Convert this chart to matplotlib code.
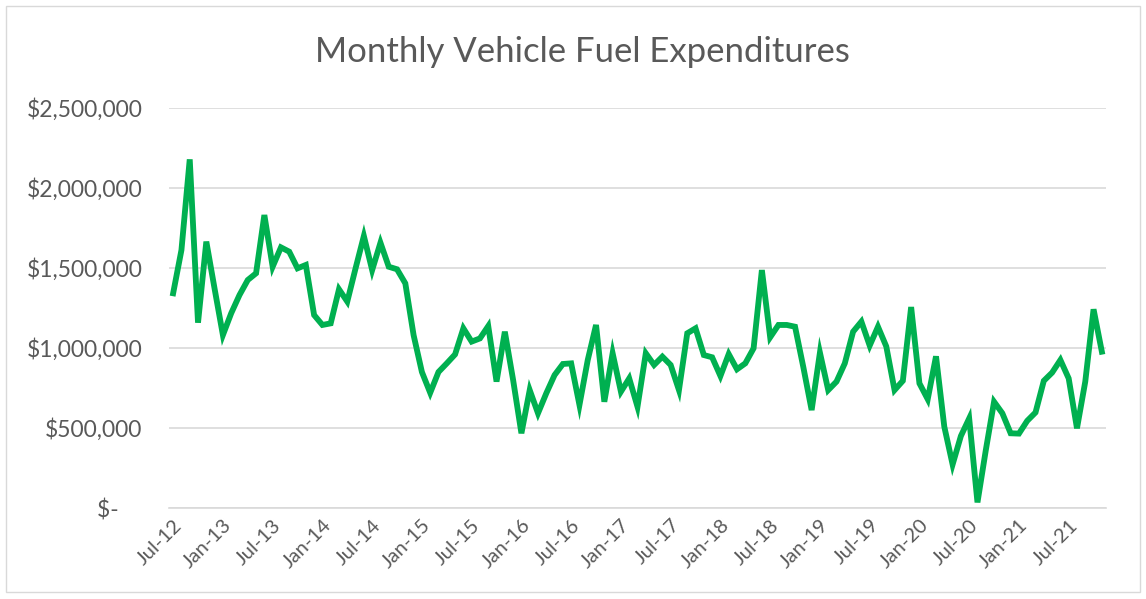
import matplotlib
matplotlib.use("Agg")
import matplotlib.pyplot as plt
from matplotlib.patches import Rectangle

# Monthly values Jul-12 .. Nov-21 (dollars)
values = [
    1342000, 1612000, 2179000, 1158000, 1665000, 1370000, 1081000, 1217000, 1331000, 1425000, 1467000, 1831000,
    1508000, 1629000, 1602000, 1498000, 1519000, 1206000, 1144000, 1154000, 1367000, 1290000, 1498000, 1700000,
    1487000, 1658000, 1508000, 1492000, 1404000, 1080000, 850000, 720000, 850000, 904000, 960000, 1123000,
    1040000, 1060000, 1137000, 790000, 1102000, 800000, 467000, 737000, 592000, 717000, 831000, 900000,
    904000, 644000, 925000, 1144000, 664000, 967000, 727000, 810000, 633000, 967000, 894000, 946000,
    894000, 737000, 1092000, 1123000, 956000, 942000, 825000, 962000, 867000, 904000, 998000, 1487000,
    1067000, 1144000, 1144000, 1133000, 880000, 612000, 971000, 737000, 790000, 904000, 1102000, 1165000,
    1015000, 1133000, 1010000, 737000, 795000, 1256000, 779000, 680000, 948000, 508000, 272000, 450000,
    560000, 35000, 360000, 664000, 592000, 467000, 465000, 545000, 597000, 795000, 846000, 925000,
    810000, 498000, 790000, 1242000, 977000,
]

tick_labels = ["Jul-12", "Jan-13", "Jul-13", "Jan-14", "Jul-14", "Jan-15", "Jul-15", "Jan-16",
               "Jul-16", "Jan-17", "Jul-17", "Jan-18", "Jul-18", "Jan-19", "Jul-19", "Jan-20",
               "Jul-20", "Jan-21", "Jul-21"]
y_ticks = [0, 500000, 1000000, 1500000, 2000000, 2500000]
y_tick_labels = ["$-    ", "$500,000", "$1,000,000", "$1,500,000", "$2,000,000", "$2,500,000"]
title = "Monthly Vehicle Fuel Expenditures"

plt.rcParams['font.family'] = ['Lato', 'DejaVu Sans']
text_color = "#595959"
grid_color = "#d9d9d9"

fig = plt.figure(figsize=(11.46, 5.99), dpi=100)
W, H = 1146, 599
ax = fig.add_axes([169 / W, 1 - 508 / H, (1106 - 169) / W, (508 - 108) / H])

x = list(range(len(values)))
ax.plot(x, values, color="#00B050", linewidth=4.2, solid_joinstyle="miter", zorder=3)

ax.set_xlim(-0.5, len(values) - 0.5)
ax.set_ylim(0, 2500000)
ax.set_yticks(y_ticks)
ax.set_yticklabels(y_tick_labels)
ax.set_xticks(list(range(0, len(values), 6)))
ax.set_xticklabels(tick_labels, rotation=45, ha="right", va="top", rotation_mode="anchor")

ax.tick_params(axis="y", length=0, pad=19, labelsize=16.5, labelcolor=text_color)
ax.tick_params(axis="x", length=0, pad=6, labelsize=14.5, labelcolor=text_color)

for s in ["top", "right", "left"]:
    ax.spines[s].set_visible(False)
ax.spines["bottom"].set_color(grid_color)
ax.spines["bottom"].set_linewidth(1.2)
ax.grid(axis="y", color=grid_color, linewidth=1.2, zorder=0)
ax.set_axisbelow(True)

fig.text(582 / W, 1 - 52 / H, title, ha="center", va="center", fontsize=25, color=text_color)

fig.patches.append(Rectangle((6 / W, 7 / H), (1140 - 6) / W, (593 - 7) / H,
                             transform=fig.transFigure, fill=False,
                             edgecolor=grid_color, linewidth=1))

fig.savefig("out.png", dpi=100)
